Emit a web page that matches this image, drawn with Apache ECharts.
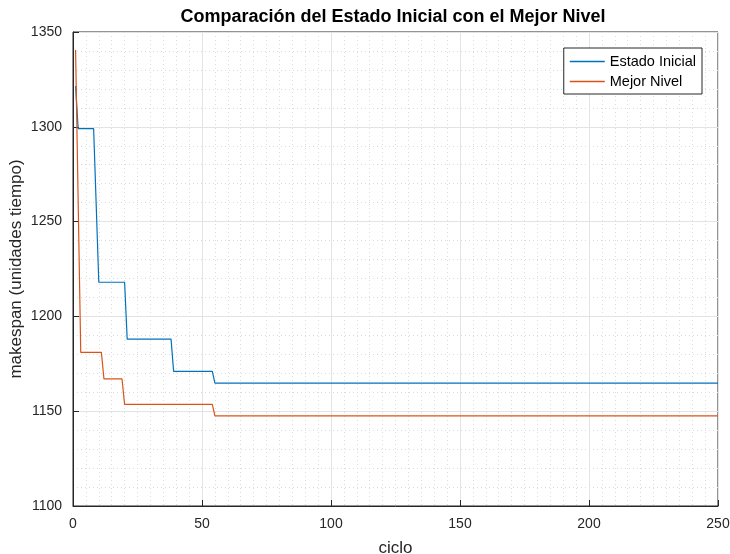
<!DOCTYPE html>
<html>
<head>
<meta charset="utf-8">
<script src="https://cdn.jsdelivr.net/npm/echarts@6/dist/echarts.min.js"></script>
<style>
  html, body { margin: 0; padding: 0; background: #ffffff; }
  #chart { width: 730px; height: 554px; }
</style>
</head>
<body>
<div id="chart"></div>
<script>
// Corner points of each convergence curve (cycle, makespan)
const ciclosEstado = [1, 2, 8, 10, 20, 21, 38, 39, 54, 55, 250];
const valoresEstado = [1321.5, 1299, 1299, 1218, 1218, 1188, 1188, 1171, 1171, 1164.8, 1164.8];

const ciclosMejor = [1, 3, 11, 12, 19, 20, 54, 55, 250];
const valoresMejor = [1340.5, 1181, 1181, 1167, 1167, 1153.6, 1153.6, 1147.5, 1147.5];

const nombresSeries = ['Estado Inicial', 'Mejor Nivel'];
const coloresSeries = ['#0072BD', '#D95319'];
const titulo = 'Comparación del Estado Inicial con el Mejor Nivel';
const nombreX = 'ciclo';
const nombreY = 'makespan (unidades tiempo)';

const pares = (xs, ys) => xs.map((x, i) => [x, ys[i]]);

const FONT = '"Liberation Sans", Arial, sans-serif';
const INK = '#262626';

const chart = echarts.init(document.getElementById('chart'), null, { renderer: 'canvas' });

function ejeValor(extra) {
  return Object.assign({
    type: 'value',
    axisLine: { show: true, onZero: false, lineStyle: { color: INK, width: 1 } },
    axisTick: { show: true, inside: true, length: 6, lineStyle: { color: INK } },
    axisLabel: { color: INK, fontFamily: FONT, fontSize: 14, margin: 11, formatter: v => String(v) },
    splitLine: { show: true, lineStyle: { color: '#e3e3e3', width: 1 } },
    minorSplitLine: { show: true, lineStyle: { color: '#dcdcdc', width: 1, type: [1, 3] } },
    nameLocation: 'middle',
    nameMoveOverlap: false,
    nameTextStyle: { color: INK, fontFamily: FONT, fontSize: 17 }
  }, extra);
}

function serie(i, xs, ys, z) {
  return {
    name: nombresSeries[i],
    type: 'line',
    data: pares(xs, ys),
    showSymbol: false,
    symbol: 'none',
    color: coloresSeries[i],
    itemStyle: { color: coloresSeries[i] },
    lineStyle: { color: coloresSeries[i], width: 1.2 },
    z: z
  };
}

chart.setOption({
  backgroundColor: '#ffffff',
  animation: false,
  title: {
    text: titulo,
    left: 388,
    textAlign: 'center',
    top: 3,
    textStyle: { fontFamily: FONT, fontSize: 18, fontWeight: 'bold', color: '#000000' }
  },
  grid: {
    left: 73, right: 12, top: 32, bottom: 48,
    containLabel: false,
    outerBoundsMode: 'none',
    show: true, borderColor: INK, borderWidth: 1, backgroundColor: '#ffffff'
  },
  legend: {
    data: nombresSeries.map((n, i) => ({
      name: n,
      icon: 'rect',
      itemStyle: { color: coloresSeries[i], borderColor: coloresSeries[i], borderWidth: 0, opacity: 1 },
      lineStyle: { color: coloresSeries[i] }
    })),
    orient: 'vertical',
    right: 28,
    top: 48,
    padding: [5, 6, 4, 6],
    itemGap: 3,
    itemWidth: 35,
    itemHeight: 1.4,
    backgroundColor: '#ffffff',
    borderColor: INK,
    borderWidth: 1,
    borderRadius: 0,
    textStyle: { fontFamily: FONT, fontSize: 14.5, color: '#000000', lineHeight: 17 }
  },
  xAxis: ejeValor({
    min: 0, max: 250, interval: 50,
    minorTick: { show: false, splitNumber: 10 },
    name: nombreX,
    nameGap: 34
  }),
  yAxis: ejeValor({
    min: 1100, max: 1350, interval: 50,
    minorTick: { show: false, splitNumber: 5 },
    name: nombreY,
    nameGap: 48
  }),
  series: [
    serie(0, ciclosEstado, valoresEstado, 3),
    serie(1, ciclosMejor, valoresMejor, 4)
  ]
});
</script>
</body>
</html>
